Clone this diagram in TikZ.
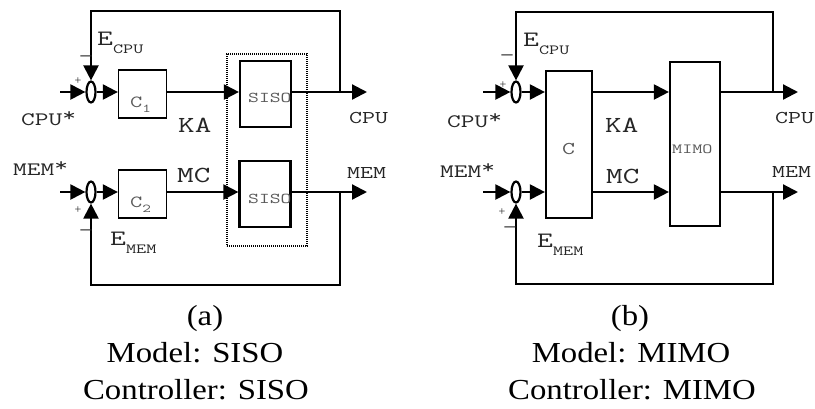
\documentclass[tikz,border=0pt]{standalone}
\usepackage{fontspec}
\setmainfont{Liberation Serif}[FakeStretch=1.13]
\newfontfamily\lblf{Latin Modern Mono}[FakeStretch=1.4]
\newfontfamily\sgnf{Liberation Serif}
\usetikzlibrary{arrows.meta,shapes.geometric}
\newcommand{\fsz}[1]{\fontsize{#1pt}{#1pt}\selectfont}
\newcommand{\upstar}{\raisebox{4pt}{*}}
\begin{document}
\begin{tikzpicture}[x=1pt,y=-1pt,
  wire/.style={line width=2.2pt},
  arr/.style={wire,-{Triangle[length=15pt,width=15pt]}},
  sumj/.style={ellipse,draw,line width=2.2pt,minimum width=9pt,minimum height=21pt,inner sep=0pt},
  thinbox/.style={draw,line width=1.3pt,minimum width=48pt,minimum height=48pt,inner sep=0pt},
  thickbox/.style={draw,line width=2.2pt,inner sep=0pt},
  lbl/.style={inner sep=0pt,anchor=base west,font=\lblf,text=black!85},
  inlbl/.style={inner sep=0pt,anchor=base west,font=\lblf,text=black!65},
  sgn/.style={inner sep=0pt,anchor=center,font=\sgnf,text=black!85},
  captxt/.style={inner sep=0pt,anchor=base,font=\fsz{29}}
]
\useasboundingbox (0,0) rectangle (815,408);

%% ---------------- (a) SISO ----------------
\node[sumj] (s1) at (91,92) {};
\node[sumj] (s2) at (91,192) {};
\node[thinbox] (c1) at (142.5,94) {};
\node[thinbox] (c2) at (142.5,194) {};
\node[thickbox,minimum width=51pt,minimum height=66pt] (siso1) at (265.5,94) {};
\node[thickbox,minimum width=51pt,minimum height=66pt] (siso2) at (265,194) {};
\node[draw,line width=2pt,dash pattern=on 1.2pt off 0.8pt,minimum width=80pt,minimum height=192pt,inner sep=0pt] (grp) at (267,150) {};

\coordinate (in1) at (60,92);
\coordinate (in2) at (60,192);
\coordinate (out1) at (367,92);
\coordinate (out2) at (367,192);
\coordinate (fb1) at (340,92);
\coordinate (top1) at (340,11);
\coordinate (fb2) at (340,192);
\coordinate (bot2) at (340,285);

\draw[arr] (in1) -- (s1.west);
\draw[arr] (in2) -- (s2.west);
\draw[arr] (s1.east) -- (s1.east -| c1.west);
\draw[arr] (s2.east) -- (s2.east -| c2.west);
\draw[arr] (c1.east |- s1.center) -- (siso1.west |- s1.center);
\draw[arr] (c2.east |- s2.center) -- (siso2.west |- s2.center);
\draw[arr] (siso1.east |- s1.center) -- (out1);
\draw[arr] (siso2.east |- s2.center) -- (out2);
\draw[arr] (fb1) -- (top1) -| (s1.north);
\draw[arr] (fb2) -- (bot2) -| (s2.south);

\node[lbl] (ecpu1) at (97,45) {\fsz{22}E\fsz{14}\lower8pt\hbox{CPU}};
\node[lbl] (cpus1) at (21,125) {\fsz{19}CPU\upstar};
\node[lbl] (ka1) at (178,132) {\fsz{23}KA};
\node[inlbl] (c1l) at (130,107) {\fsz{17}C\fsz{12}\lower5pt\hbox{1}};
\node[inlbl] (sl1) at (248,102) {\fsz{15}SISO};
\node[lbl] (cpuo1) at (349,123) {\fsz{18}CPU};
\node[lbl] (mems1) at (13,175) {\fsz{19}MEM\upstar};
\node[lbl] (mc1) at (177,182) {\fsz{23}MC};
\node[inlbl] (c2l) at (130,207) {\fsz{17}C\fsz{12}\lower5pt\hbox{2}};
\node[inlbl] (sl2) at (248,203) {\fsz{15}SISO};
\node[lbl] (memo1) at (347,178) {\fsz{18}MEM};
\node[lbl] (emem1) at (110,245) {\fsz{22}E\fsz{14}\lower8pt\hbox{MEM}};
\node[sgn] (p1) at (78,81) {\fsz{12}+};
\node[sgn] (p2) at (78,210) {\fsz{12}+};
\node[sgn] (m1) at (86,59) {\fsz{22}–};
\node[sgn] (m2) at (86,233) {\fsz{22}–};

\node[captxt] (ta) at (205,325) {(a)};
\node[captxt] (ma) at (195,362) {Model: SISO};
\node[captxt] (ca) at (196,399) {Controller: SISO};

%% ---------------- (b) MIMO ----------------
\node[sumj] (s3) at (516,92) {};
\node[sumj] (s4) at (516,192) {};
\node[thickbox,minimum width=46pt,minimum height=147pt] (cb) at (569,144.5) {};
\node[thickbox,minimum width=50pt,minimum height=164pt] (mimo) at (695,144) {};

\coordinate (in3) at (483,92);
\coordinate (in4) at (483,192);
\coordinate (out3) at (798,92);
\coordinate (out4) at (798,192);
\coordinate (fb3) at (773,92);
\coordinate (top3) at (773,12);
\coordinate (fb4) at (773,192);
\coordinate (bot4) at (773,284);

\draw[arr] (in3) -- (s3.west);
\draw[arr] (in4) -- (s4.west);
\draw[arr] (s3.east) -- (s3.east -| cb.west);
\draw[arr] (s4.east) -- (s4.east -| cb.west);
\draw[arr] (cb.east |- s3.center) -- (mimo.west |- s3.center);
\draw[arr] (cb.east |- s4.center) -- (mimo.west |- s4.center);
\draw[arr] (mimo.east |- s3.center) -- (out3);
\draw[arr] (mimo.east |- s4.center) -- (out4);
\draw[arr] (fb3) -- (top3) -| (s3.north);
\draw[arr] (fb4) -- (bot4) -| (s4.south);

\node[lbl] (ecpu2) at (523,46) {\fsz{22}E\fsz{14}\lower8pt\hbox{CPU}};
\node[lbl] (cpus2) at (447,127) {\fsz{19}CPU\upstar};
\node[lbl] (mems2) at (440,177) {\fsz{19}MEM\upstar};
\node[inlbl] (cbl) at (562,154) {\fsz{18}C};
\node[lbl] (ka2) at (605,132) {\fsz{23}KA};
\node[lbl] (mc2) at (606,183) {\fsz{23}MC};
\node[inlbl] (mimol) at (672,153) {\fsz{14}MIMO};
\node[lbl] (cpuo2) at (775,123) {\fsz{18}CPU};
\node[lbl] (memo2) at (772,177) {\fsz{18}MEM};
\node[lbl] (emem2) at (537,247) {\fsz{22}E\fsz{14}\lower8pt\hbox{MEM}};
\node[sgn] (p3) at (503,85) {\fsz{12}+};
\node[sgn] (p4) at (502,212) {\fsz{12}+};
\node[sgn] (m3) at (507,58) {\fsz{22}–};
\node[sgn] (m4) at (510,230) {\fsz{22}–};

\node[captxt] (tb) at (630,325) {(b)};
\node[captxt] (mb) at (631,362) {Model: MIMO};
\node[captxt] (cbc) at (632,399) {Controller: MIMO};
\end{tikzpicture}
\end{document}
